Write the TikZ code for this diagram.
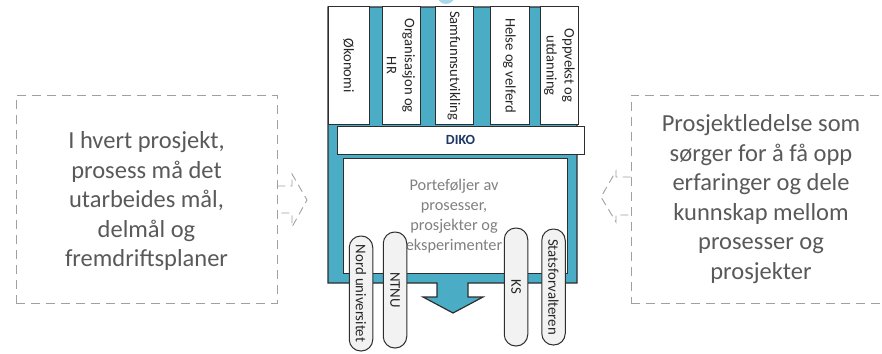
\documentclass[tikz,border=0pt]{standalone}
\usepackage{fontspec}
\setmainfont{Carlito}
\definecolor{aqua}{HTML}{4BACC6}
\definecolor{lightaqua}{HTML}{A9D7E9}
\definecolor{outl}{HTML}{2E2E2E}
\definecolor{dashgrey}{HTML}{A0A0A0}
\definecolor{boxtext}{HTML}{595959}
\definecolor{porttext}{HTML}{808080}
\definecolor{navy}{HTML}{1F3864}
\definecolor{pillfill}{HTML}{F2F2F2}
\begin{document}
\begin{tikzpicture}[x=1pt,y=-1pt,
  colbox/.style={draw=outl,line width=1pt,fill=white,rotate=-90,inner sep=0pt,
    minimum width=117pt,minimum height=40pt,align=center,text=black!85,
    font=\fontsize{14.6}{18}\selectfont},
  pill/.style={draw=outl,line width=1pt,fill=pillfill,rotate=-90,inner sep=0pt,
    rounded corners=11.5pt,minimum height=23.5pt,text=black!85,
    font=\fontsize{14.8}{17}\selectfont},
  dashbox/.style={draw=dashgrey,line width=0.9pt,dash pattern=on 9pt off 6pt},
  dasharrow/.style={draw=dashgrey,line width=0.9pt,dash pattern=on 8pt off 5pt},
  boxtxt/.style={text=boxtext,align=center,font=\fontsize{24.5}{29.5}\selectfont}]
\useasboundingbox (0,0) rectangle (882,353);
\clip (0,0) rectangle (882,353);

% top partial circle
\fill[lightaqua] (446,-5) circle (9);

% main blue shape with arrow
\draw[fill=aqua,draw=outl,line width=1.2pt]
  (328,7) -- (577,7) -- (577,283) -- (468,283) -- (468,297) -- (483,297)
  -- (453,313) -- (423,297) -- (437,297) -- (437,283) -- (328,283) -- cycle;

% inner white area
\node[draw=outl,line width=1pt,fill=white,inner sep=0pt,
  minimum width=224pt,minimum height=115pt] (port) at (455,215.5) {};
\node[text=porttext,align=center,font=\fontsize{16.3}{20}\selectfont] (porttxt) at (454,216)
  {Porteføljer av\\prosesser,\\prosjekter og\\eksperimenter};

% columns
\node[colbox,minimum height=41pt] (c1) at (348.5,65.5) {Økonomi};
\node[colbox,minimum height=38pt] (c2) at (401,65.5) {Organisasjon og\\HR};
\node[colbox,minimum height=38pt] (c3) at (454,65.5) {Samfunnsutvikling};
\node[colbox,minimum height=39pt] (c4) at (509.5,65.5) {Helse og velferd};
\node[colbox,minimum height=38pt] (c5) at (559.5,65.5) {Oppvekst og\\utdanning};

% DIKO bar
\node[draw=outl,line width=1pt,fill=white,inner sep=0pt,minimum width=247pt,
  minimum height=28pt,text=navy,font=\fontsize{14}{16}\selectfont\bfseries]
  (diko) at (460.5,140) {DIKO};

% pills
\node[pill,minimum width=115pt] (nord) at (361,293.5) {Nord universitet};
\node[pill,minimum width=116pt] (ntnu) at (395,290) {NTNU};
\node[pill,minimum width=118pt] (ks) at (516,287) {KS};
\node[pill,minimum width=116pt] (stats) at (553.5,287) {Statsforvalteren};

% left dashed box
\node[dashbox,inner sep=0pt,minimum width=261pt,minimum height=208pt] (lbox) at (146.5,199) {};
\node[boxtxt] (ltxt) at (146.5,201)
  {I hvert prosjekt,\\prosess må det\\utarbeides mål,\\delmål og\\fremdriftsplaner};
\draw[dasharrow] (lbox.east |- 0,186) -- (292,186) -- (292,174) -- (307,200)
  -- (292,227) -- (292,213) -- (lbox.east |- 0,213);

% right dashed box
\node[dashbox,inner sep=0pt,minimum width=260pt,minimum height=208pt] (rbox) at (761,199) {};
\node[boxtxt] (rtxt) at (761,199)
  {Prosjektledelse som\\sørger for å få opp\\erfaringer og dele\\kunnskap mellom\\prosesser og\\prosjekter};
\draw[dasharrow] (rbox.west |- 0,177) -- (616,177) -- (616,171) -- (601,197)
  -- (616,222) -- (616,215) -- (rbox.west |- 0,215);
\end{tikzpicture}
\end{document}
